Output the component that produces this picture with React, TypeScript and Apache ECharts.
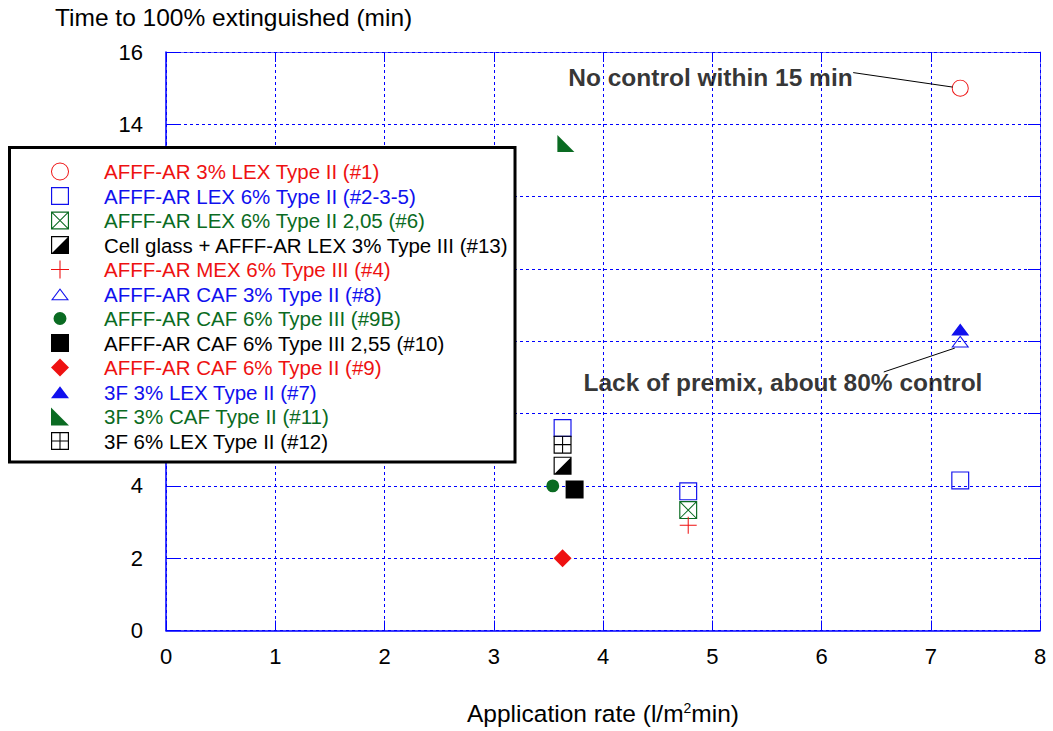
import React, { useEffect, useRef } from "react";
import * as echarts from "echarts";

// ---------- data ----------
const xTicks = [0, 1, 2, 3, 4, 5, 6, 7, 8];
const yTicks = [0, 2, 4, 6, 8, 10, 12, 14, 16];
// labels 6..12 are hidden behind the legend box in the original
const yTickLabels = ["0", "2", "4", "", "", "", "", "14", "16"];

const seriesNames = [
  "AFFF-AR 3% LEX Type II (#1)",
  "AFFF-AR LEX 6% Type II (#2-3-5)",
  "AFFF-AR LEX 6% Type II 2,05 (#6)",
  "Cell glass + AFFF-AR LEX 3% Type III (#13)",
  "AFFF-AR MEX 6% Type III (#4)",
  "AFFF-AR CAF 3% Type II (#8)",
  "AFFF-AR CAF 6% Type III (#9B)",
  "AFFF-AR CAF 6% Type III 2,55 (#10)",
  "AFFF-AR CAF 6% Type II (#9)",
  "3F 3% LEX Type II (#7)",
  "3F 3% CAF Type II (#11)",
  "3F 6% LEX Type II (#12)",
];

const ptsAfffAr3LexII_1 = [[7.27, 15.0]];
const ptsAfffArLex6II_235 = [
  [3.63, 5.6],
  [4.78, 3.85],
  [7.27, 4.15],
];
const ptsAfffArLex6II205_6 = [[4.78, 3.33]];
const ptsCellGlass_13 = [[3.63, 4.56]];
const ptsAfffArMex6III_4 = [[4.78, 2.91]];
const ptsAfffArCaf3II_8 = [[7.27, 8.0]];
const ptsAfffArCaf6III_9B = [[3.54, 4.0]];
const ptsAfffArCaf6III255_10 = [[3.74, 3.9]];
const ptsAfffArCaf6II_9 = [[3.63, 2.0]];
const pts3F3LexII_7 = [[7.27, 8.33]];
const pts3F3CafII_11 = [[3.66, 13.47]];
const pts3F6LexII_12 = [[3.63, 5.14]];

const annotationTexts = ["No control within 15 min", "Lack of premix, about 80% control"];
const annotationAnchors = [
  [6.29, 15.29],
  [3.817, 6.85],
];
const leaderLines = [
  [
    [6.29, 15.43],
    [7.2, 15.03],
  ],
  [
    [6.57, 7.15],
    [7.22, 7.81],
  ],
];

// ---------- styles ----------
const FONT = '"Liberation Sans", Arial, Helvetica, sans-serif';
const RED = "#ee1111";
const BLUE = "#1010ee";
const GREEN = "#0a6b22";
const BLACK = "#000000";
const GRID_BLUE = "#0000ff";

const PAD = "M0,0 L0.01,0 L0,0.01 Z M20,20 L19.99,20 L20,19.99 Z ";
const RING_SQ = "M0,0 L20,0 L20,20 L0,20 Z M1.3,1.3 L1.3,18.7 L18.7,18.7 L18.7,1.3 Z ";
const SYM = {
  ringCircle:
    "path://M0,10 A10,10 0 1 1 20,10 A10,10 0 1 1 0,10 Z M1.1,10 A8.9,8.9 0 1 0 18.9,10 A8.9,8.9 0 1 0 1.1,10 Z",
  ringSquare: "path://" + RING_SQ,
  crossSquare:
    "path://" +
    RING_SQ +
    "M0,0.8 L0.8,0 L20,19.2 L19.2,20 Z M19.2,0 L20,0.8 L0.8,20 L0,19.2 Z",
  halfSquare: "path://" + RING_SQ + "M20,0 L20,20 L0,20 Z",
  plus: "path://M0,9.4 L20,9.4 L20,10.6 L0,10.6 Z M9.4,0 L10.6,0 L10.6,20 L9.4,20 Z",
  ringTriangle: "path://" + PAD + "M10,3.5 L20,17 L0,17 Z M10,5.6 L2.3,15.8 L17.7,15.8 Z",
  dot: "path://" + PAD + "M2.8,10 A7.2,7.2 0 1 1 17.2,10 A7.2,7.2 0 1 1 2.8,10 Z",
  square: "path://M0,0 L20,0 L20,20 L0,20 Z",
  diamond: "path://M10,0 L20,10 L10,20 L0,10 Z",
  triangle: "path://" + PAD + "M10,3.5 L20,17 L0,17 Z",
  rightTriangle: "path://M0,0 L20,20 L0,20 Z",
  gridSquare:
    "path://" +
    RING_SQ +
    "M9.4,0 L10.6,0 L10.6,20 L9.4,20 Z M0,9.4 L20,9.4 L20,10.6 L0,10.6 Z",
};

const seriesDefs = [
  { data: ptsAfffAr3LexII_1, color: RED, symbol: SYM.ringCircle, size: 17 },
  { data: ptsAfffArLex6II_235, color: BLUE, symbol: SYM.ringSquare, size: 18 },
  { data: ptsAfffArLex6II205_6, color: GREEN, symbol: SYM.crossSquare, size: 18 },
  { data: ptsCellGlass_13, color: BLACK, symbol: SYM.halfSquare, size: 18 },
  { data: ptsAfffArMex6III_4, color: RED, symbol: SYM.plus, size: 17 },
  { data: ptsAfffArCaf3II_8, color: BLUE, symbol: SYM.ringTriangle, size: 18 },
  { data: ptsAfffArCaf6III_9B, color: GREEN, symbol: SYM.dot, size: 18 },
  { data: ptsAfffArCaf6III255_10, color: BLACK, symbol: SYM.square, size: 18 },
  { data: ptsAfffArCaf6II_9, color: RED, symbol: SYM.diamond, size: 18 },
  { data: pts3F3LexII_7, color: BLUE, symbol: SYM.triangle, size: 18 },
  { data: pts3F3CafII_11, color: GREEN, symbol: SYM.rightTriangle, size: 17 },
  { data: pts3F6LexII_12, color: BLACK, symbol: SYM.gridSquare, size: 18 },
].map((d, i) => ({ ...d, name: seriesNames[i] }));

export default function App() {
  const ref = useRef<HTMLDivElement>(null);

  useEffect(() => {
    if (!ref.current) return;
    const chart = echarts.init(ref.current, null, { renderer: "svg" });

    const mainAxisCommon = {
      type: "value" as const,
      axisLine: { show: true, onZero: false, lineStyle: { color: GRID_BLUE, width: 1.5 } },
      axisTick: { show: true, inside: true, lineStyle: { color: GRID_BLUE, width: 1 } },
      splitLine: {
        show: true,
        showMinLine: true,
        showMaxLine: true,
        lineStyle: { color: GRID_BLUE, width: 1, type: [3, 3] },
      },
      axisLabel: { color: "#000", fontSize: 22, fontFamily: FONT },
    };
    const sideAxisCommon = {
      type: "value" as const,
      axisLine: { show: true, onZero: false, lineStyle: { color: GRID_BLUE, width: 1, opacity: 0.6 } },
      axisTick: { show: true, inside: true, lineStyle: { color: GRID_BLUE, width: 1 } },
      splitLine: { show: false },
      axisLabel: { show: false },
    };

    const legendText = { fontSize: 20.5, fontFamily: FONT, lineHeight: 20, padding: [0, 0, 0, 30] };

    const option: any = {
      animation: false,
      backgroundColor: "#ffffff",
      title: {
        text: "Time to 100% extinguished (min)",
        left: 55,
        top: 5,
        padding: 0,
        textStyle: { fontSize: 24.5, fontWeight: "normal", color: "#000", fontFamily: FONT },
      },
      grid: { left: 166, width: 874, top: 52, height: 582, containLabel: false },
      xAxis: [
        {
          ...mainAxisCommon,
          position: "bottom",
          min: xTicks[0],
          max: xTicks[xTicks.length - 1],
          interval: xTicks[1] - xTicks[0],
          axisTick: { ...mainAxisCommon.axisTick, length: 10 },
          axisLabel: { ...mainAxisCommon.axisLabel, margin: 15 },
          name: "Application rate (l/m{sup|2}min)",
          nameLocation: "middle",
          nameGap: 70,
          nameTextStyle: {
            color: "#000",
            fontSize: 24.5,
            fontFamily: FONT,
            rich: {
              sup: { fontSize: 14, fontFamily: FONT, color: "#000", padding: [0, 0, 12, 0] },
            },
          },
        },
        {
          ...sideAxisCommon,
          position: "top",
          min: xTicks[0],
          max: xTicks[xTicks.length - 1],
          interval: xTicks[1] - xTicks[0],
          axisTick: { ...sideAxisCommon.axisTick, length: 10 },
        },
      ],
      yAxis: [
        {
          ...mainAxisCommon,
          position: "left",
          min: yTicks[0],
          max: yTicks[yTicks.length - 1],
          interval: yTicks[1] - yTicks[0],
          axisTick: { ...mainAxisCommon.axisTick, length: 12 },
          axisLabel: {
            ...mainAxisCommon.axisLabel,
            margin: 23,
            formatter: (v: number) => {
              const i = yTicks.indexOf(v);
              return i >= 0 ? yTickLabels[i] : "";
            },
          },
        },
        {
          ...sideAxisCommon,
          position: "right",
          min: yTicks[0],
          max: yTicks[yTicks.length - 1],
          interval: yTicks[1] - yTicks[0],
          axisTick: { ...sideAxisCommon.axisTick, length: 12 },
        },
      ],
      legend: {
        orient: "vertical",
        left: 9.5,
        top: 147.5,
        padding: [13.5, 6, 10.5, 41.5],
        itemWidth: 18,
        itemHeight: 18,
        itemGap: 3.5,
        backgroundColor: "#ffffff",
        borderColor: "#000000",
        borderWidth: 3,
        selectedMode: false,
        symbolKeepAspect: true,
        itemStyle: { borderWidth: 0 },
        textStyle: legendText,
        data: seriesDefs.map((d) => ({
          name: d.name,
          icon: d.symbol,
          itemStyle: { color: d.color, borderWidth: 0 },
          textStyle: { ...legendText, color: d.color },
        })),
        z: 10,
      },
      series: [
        ...seriesDefs.map((d) => ({
          type: "scatter",
          name: d.name,
          data: d.data,
          symbol: d.symbol,
          symbolSize: d.size,
          itemStyle: { color: d.color, opacity: 1, borderWidth: 0 },
          emphasis: { disabled: true },
          silent: true,
          z: 3,
        })),
        {
          type: "scatter",
          name: "annotations",
          silent: true,
          symbolSize: 1,
          itemStyle: { color: "rgba(0,0,0,0)" },
          data: annotationAnchors.map((p, i) => ({
            value: p,
            label: {
              show: true,
              formatter: annotationTexts[i],
              position: i === 0 ? "left" : "right",
              distance: 0,
              fontSize: 24.5,
              fontWeight: "bold",
              fontFamily: FONT,
              color: "#000",
            },
          })),
          markLine: {
            silent: true,
            symbol: ["none", "none"],
            label: { show: false },
            lineStyle: { color: "#000", width: 1, type: "solid" },
            data: leaderLines.map((l) => [{ coord: l[0] }, { coord: l[1] }]),
          },
          z: 4,
        },
      ],
    };

    chart.setOption(option);
    return () => chart.dispose();
  }, []);

  return (
    <div
      ref={ref}
      style={{ position: "fixed", left: 0, top: 0, width: 1053, height: 731, background: "#fff" }}
    />
  );
}
